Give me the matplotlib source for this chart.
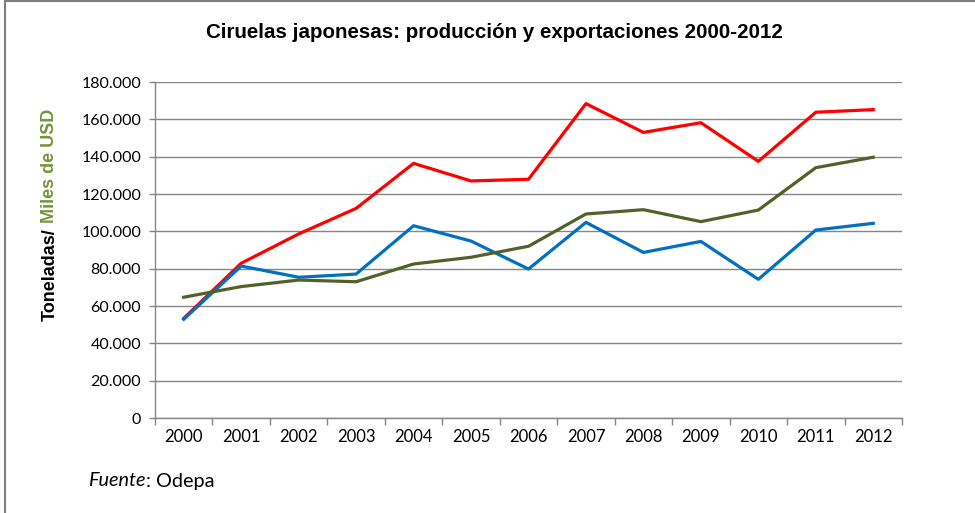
import matplotlib.pyplot as plt
from matplotlib.patches import Rectangle

# datos
years = [2000, 2001, 2002, 2003, 2004, 2005, 2006, 2007, 2008, 2009, 2010, 2011, 2012]
serie_roja = [53400, 82900, 98600, 112300, 136400, 127000, 127900, 168400, 153000, 158200, 137500, 163800, 165200]
serie_azul = [52900, 81400, 75400, 77100, 103000, 94800, 79800, 104800, 88700, 94600, 74300, 100700, 104300]
serie_verde = [64700, 70400, 73900, 73000, 82500, 86100, 92000, 109300, 111600, 105200, 111400, 134100, 139700]
yticks = list(range(0, 180001, 20000))
ytick_labels = ["0"] + [f"{v:,}".replace(",", ".") for v in yticks[1:]]

fig = plt.figure(figsize=(9.75, 5.13), dpi=100)
ax = fig.add_axes([155 / 975, 95 / 513, 747 / 975, 336 / 513])

ax.plot(years, serie_roja, color="#FF0000", lw=2.3, solid_joinstyle="round")
ax.plot(years, serie_azul, color="#0070C0", lw=2.3, solid_joinstyle="round")
ax.plot(years, serie_verde, color="#4F6228", lw=2.3, solid_joinstyle="round")

ax.set_xlim(1999.5, 2012.5)
ax.set_ylim(0, 180000)
ax.set_yticks(yticks)
ax.set_yticklabels(ytick_labels, fontsize=11.5, family="Lato")
ax.set_xticks(years)
ax.set_xticklabels([str(y) for y in years], fontsize=12, family="Lato")
ax.set_xticks([y - 0.5 for y in years] + [2012.5], minor=True)
ax.tick_params(axis="x", which="major", length=0, pad=8)
ax.tick_params(axis="x", which="minor", length=5, color="#868686", width=1)
ax.tick_params(axis="y", length=4, color="#868686", width=1, pad=6)

ax.grid(axis="y", color="#868686", lw=1)
ax.set_axisbelow(True)
for s in ["top", "right"]:
    ax.spines[s].set_visible(False)
for s in ["left", "bottom"]:
    ax.spines[s].set_color("#868686")
    ax.spines[s].set_linewidth(1)

fig.text(494 / 975, 1 - 33 / 513, "Ciruelas japonesas: producción y exportaciones 2000-2012",
         ha="center", va="center", fontsize=14.8, fontweight="bold", family="Liberation Sans")

# etiqueta eje y en dos colores, una detras de la otra
t_ton = fig.text(50 / 975, 1 - 321 / 513, "Toneladas/", rotation=90, ha="center", va="bottom",
                 fontsize=13, fontweight="bold", family="Liberation Sans", color="black")
t_fue = fig.text(88 / 975, 1 - 481 / 513, "Fuente", ha="left", va="center", fontsize=14.3,
                 style="italic", family="Lato")
fig.canvas.draw()
y_top = t_ton.get_window_extent().y1 / fig.bbox.height + 5 / 513
fig.text(50 / 975, y_top, "Miles de USD", rotation=90, ha="center", va="bottom",
         fontsize=13, fontweight="bold", family="Liberation Sans", color="#77933C")
x1 = t_fue.get_window_extent().x1 / fig.bbox.width
fig.text(x1, 1 - 481 / 513, ": Odepa", ha="left", va="center", fontsize=14.3, family="Lato")

fig.patches.append(Rectangle((5 / 975, -0.1), 1.2, 1.1 - 1 / 513, transform=fig.transFigure,
                             fill=False, edgecolor="#7F7F7F", lw=1.5))

fig.savefig("out.png", dpi=100)
